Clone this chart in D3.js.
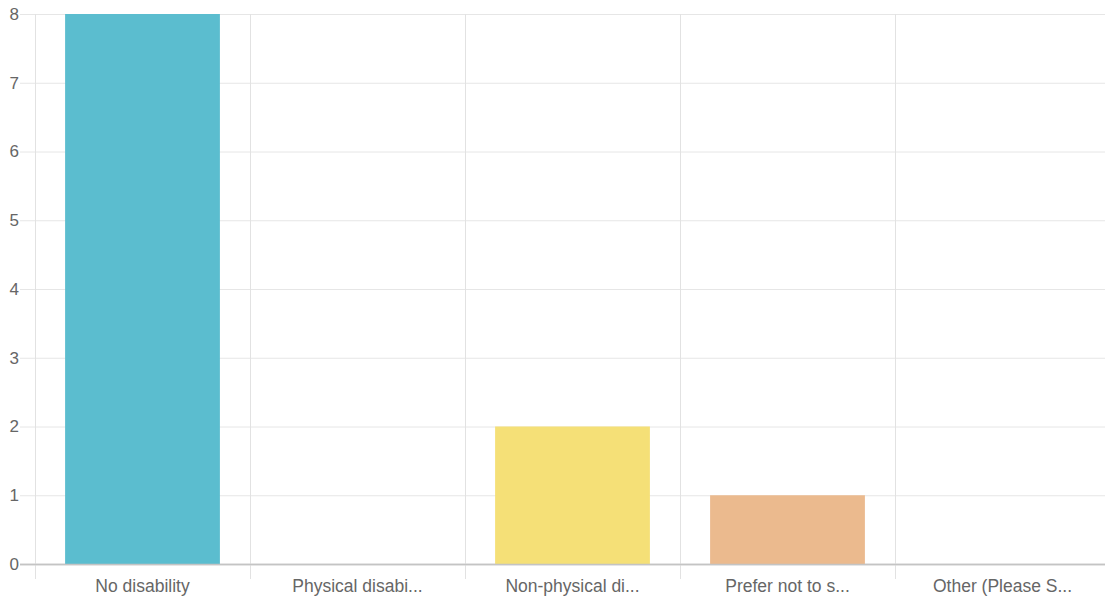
<!DOCTYPE html>
<html>
<head>
<meta charset="utf-8">
<script src="https://cdn.jsdelivr.net/npm/d3@7"></script>
<style>
  body { margin: 0; background: #fff; overflow: hidden; }
  svg { display: block; font-family: "Liberation Sans", Arial, sans-serif; }
</style>
</head>
<body>
<div id="chart"></div>
<script>
// Chart data
let categories = ['No disability', 'Physical disabi...', 'Non-physical di...', 'Prefer not to s...', 'Other (Please S...']
let counts = [8, 0, 2, 1, 0]
let barColors = ['#5bbdcf', '#f09aa8', '#f5e077', '#ebba8e', '#a9d6a0']
let yTicks = [0, 1, 2, 3, 4, 5, 6, 7, 8]

var width = 1105, height = 601
// plot runs a few px past the right edge of the window, like the original
var margin = {top: 14, right: -5, bottom: 37, left: 35}

var svg = d3.select('#chart').append('svg')
    .attr('width', width)
    .attr('height', height)

// band scale for the categories, bar takes ~72% of band like chart.js defaults
var x = d3.scaleBand()
    .domain(categories)
    .range([margin.left, width - margin.right])

var y = d3.scaleLinear()
    .domain([0, 8])
    .range([height - margin.bottom, margin.top])

// horizontal grid lines
svg.append('g')
    .selectAll('line')
    .data(yTicks)
    .enter()
    .append('line')
    .attr('x1', margin.left - 15)
    .attr('x2', width)
    .attr('y1', d => y(d) + 0.5)
    .attr('y2', d => y(d) + 0.5)
    .attr('stroke', d => d === 0 ? '#c4c4c4' : '#e6e6e6')
    .attr('stroke-width', d => d === 0 ? 1.5 : 1)

// vertical grid lines on band edges
svg.append('g')
    .selectAll('line')
    .data(categories)
    .enter()
    .append('line')
    .attr('x1', d => x(d) + 0.5)
    .attr('x2', d => x(d) + 0.5)
    .attr('y1', margin.top)
    .attr('y2', height - margin.bottom + 15)
    .attr('stroke', '#e2e2e2')

// bars
var inner = x.bandwidth() * 0.72
svg.append('g')
    .selectAll('rect')
    .data(counts)
    .enter()
    .append('rect')
    .attr('x', (d, i) => x(categories[i]) + (x.bandwidth() - inner) / 2)
    .attr('width', inner)
    .attr('y', d => y(d))
    .attr('height', d => y(0) - y(d))
    .attr('fill', (d, i) => barColors[i])

// redraw zero line on top of bars
svg.append('line')
    .attr('x1', margin.left - 15)
    .attr('x2', width)
    .attr('y1', y(0) + 0.5)
    .attr('y2', y(0) + 0.5)
    .attr('stroke', '#c4c4c4')
    .attr('stroke-width', 1.5)

// y tick labels
svg.append('g')
    .selectAll('text')
    .data(yTicks)
    .enter()
    .append('text')
    .attr('x', margin.left - 16)
    .attr('y', d => y(d))
    .attr('dy', '0.35em')
    .attr('text-anchor', 'end')
    .attr('fill', '#666')
    .style('font-size', '17px')
    .text(d => d)

// x tick labels
svg.append('g')
    .selectAll('text')
    .data(categories)
    .enter()
    .append('text')
    .attr('x', d => x(d) + x.bandwidth() / 2)
    .attr('y', height - margin.bottom + 28)
    .attr('text-anchor', 'middle')
    .attr('fill', '#666')
    .style('font-size', '17.5px')
    .text(d => d)
</script>
</body>
</html>
